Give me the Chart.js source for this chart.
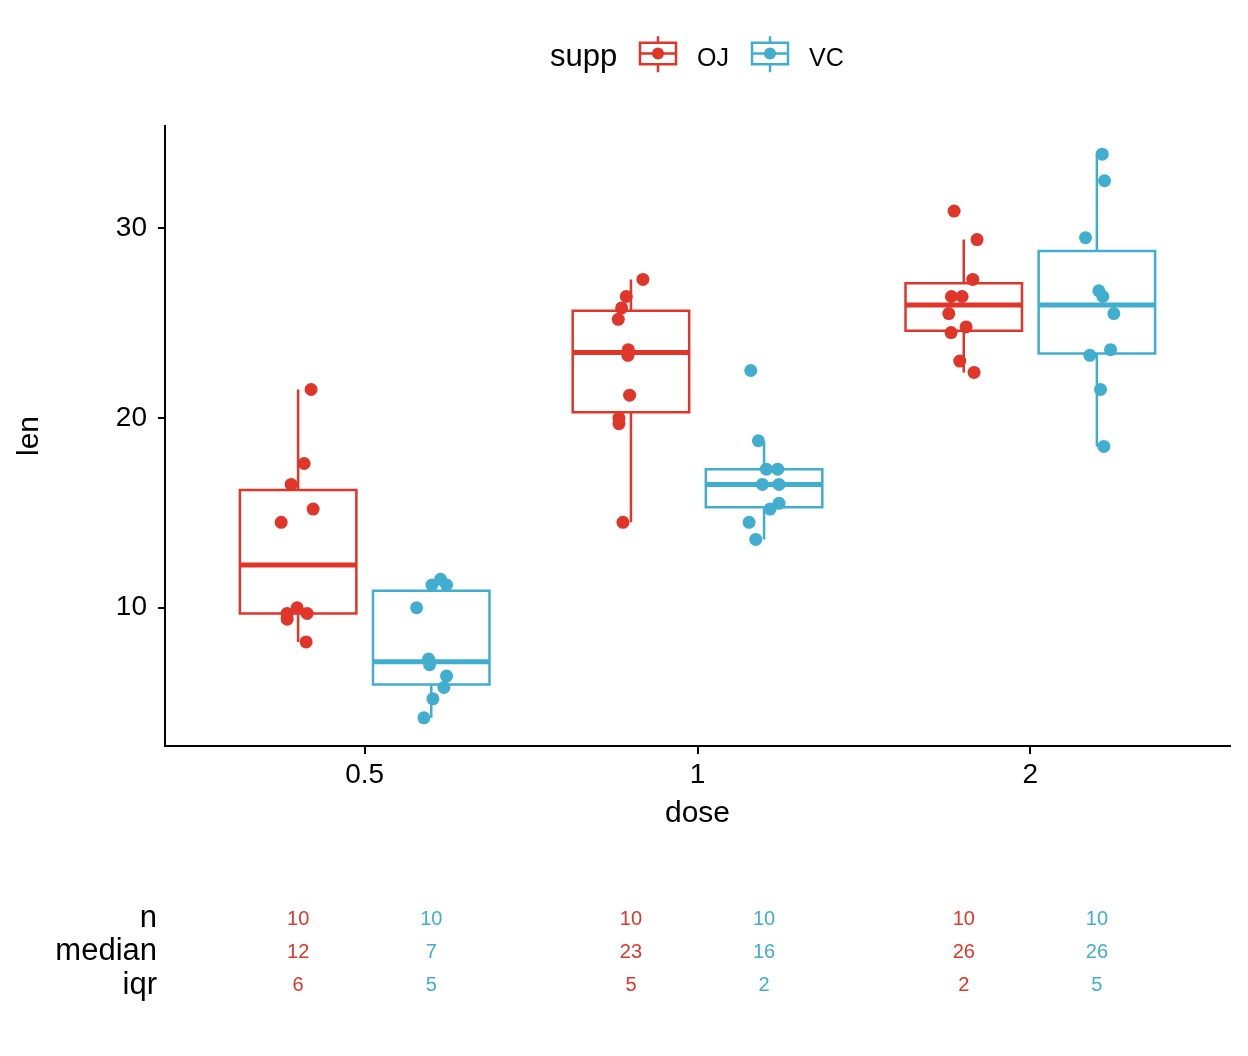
<!DOCTYPE html>
<html>
<head>
<meta charset="utf-8">
<script src="https://cdn.jsdelivr.net/npm/chart.js@4/dist/chart.umd.min.js"></script>
<style>
  html, body { margin: 0; padding: 0; background: #fff; }
  #wrap { width: 1248px; height: 1056px; }
</style>
</head>
<body>
<div id="wrap"><canvas id="chart" width="1248" height="1056"></canvas></div>
<script>
// categories
const doses = ['0.5', '1', '2'];
const doseCenters = [1, 2, 3];
const yTicks = [10, 20, 30];

// len values per dose (0.5, 1, 2)
const ojLen = [
    [15.2, 21.5, 17.6, 9.7, 14.5, 10, 8.2, 9.4, 16.5, 9.7],
    [19.7, 23.3, 23.6, 26.4, 20, 25.2, 25.8, 21.2, 14.5, 27.3],
    [25.5, 26.4, 22.4, 24.5, 24.8, 30.9, 26.4, 27.3, 29.4, 23]
];
const vcLen = [
    [4.2, 11.5, 7.3, 5.8, 6.4, 10, 11.2, 11.2, 5.2, 7],
    [16.5, 16.5, 15.2, 17.3, 22.5, 17.3, 13.6, 14.5, 18.8, 15.5],
    [23.6, 18.5, 33.9, 25.5, 26.4, 32.5, 26.7, 21.5, 23.3, 29.5]
];
// horizontal jitter of each point (in category units)
const ojJitter = [
    [0.045, 0.039, 0.018, -0.033, -0.051, -0.003, 0.024, -0.033, -0.021, 0.027],
    [-0.036, -0.009, -0.008, -0.014, -0.036, -0.038, -0.028, -0.004, -0.024, 0.036],
    [-0.045, -0.037, 0.031, -0.038, 0.007, -0.029, -0.005, 0.027, 0.040, -0.012]
];
const vcJitter = [
    [-0.022, 0.028, -0.008, 0.038, 0.046, -0.044, 0.002, 0.046, 0.005, -0.005],
    [-0.005, 0.045, 0.018, 0.007, -0.040, 0.041, -0.025, -0.045, -0.017, 0.045],
    [0.041, 0.021, 0.016, 0.051, 0.018, 0.023, 0.006, 0.011, -0.021, -0.034]
];

// box stats: lower whisker, q1, median, q3, upper whisker
const ojLow = [8.2, 14.5, 22.4];
const ojQ1 = [9.7, 20.3, 24.6];
const ojMed = [12.25, 23.45, 25.95];
const ojQ3 = [16.2, 25.65, 27.1];
const ojHigh = [21.5, 27.3, 29.4];
const vcLow = [4.2, 13.6, 18.5];
const vcQ1 = [5.95, 15.3, 23.4];
const vcMed = [7.15, 16.5, 25.95];
const vcQ3 = [10.9, 17.3, 28.8];
const vcHigh = [11.5, 18.8, 33.9];

// summary table
const tableRows = ['n', 'median', 'iqr'];
const ojN = [10, 10, 10];
const vcN = [10, 10, 10];
const ojMedianLabel = [12, 23, 26];
const vcMedianLabel = [7, 16, 26];
const ojIqr = [6, 5, 2];
const vcIqr = [5, 2, 5];

const RED = '#E0362A';
const BLUE = '#41AECF';
const FONT = "'Liberation Sans', Arial, Helvetica, sans-serif";
const DODGE = 0.2;
const HALF_BOX = 0.175;

function pointsData(lens, jit, off) {
    const out = [];
    lens.forEach((grp, i) => {
        grp.forEach((v, j) => out.push({ x: doseCenters[i] + off + jit[i][j], y: v }));
    });
    return out;
}

function boxData(q1, q3, off) {
    const out = [];
    doseCenters.forEach((c, i) => {
        const l = c + off - HALF_BOX, r = c + off + HALF_BOX;
        out.push({ x: l, y: q1[i] }, { x: r, y: q1[i] }, { x: r, y: q3[i] },
                 { x: l, y: q3[i] }, { x: l, y: q1[i] }, { x: l, y: null });
    });
    return out;
}

function medianData(med, off) {
    const out = [];
    doseCenters.forEach((c, i) => {
        out.push({ x: c + off - HALF_BOX, y: med[i] }, { x: c + off + HALF_BOX, y: med[i] },
                 { x: c + off + HALF_BOX, y: null });
    });
    return out;
}

function whiskerData(low, q1, q3, high, off) {
    const out = [];
    doseCenters.forEach((c, i) => {
        const x = c + off;
        out.push({ x: x, y: q3[i] }, { x: x, y: high[i] }, { x: x, y: null },
                 { x: x, y: q1[i] }, { x: x, y: low[i] }, { x: x, y: null });
    });
    return out;
}

function lineSet(label, data, color, width, cap) {
    return {
        label: label,
        data: data,
        showLine: true,
        borderColor: color,
        borderWidth: width,
        borderCapStyle: cap,
        borderJoinStyle: 'miter',
        pointRadius: 0,
        fill: false,
        spanGaps: false,
        tension: 0
    };
}

function pointSet(label, data, color) {
    return {
        label: label,
        data: data,
        pointRadius: 6.5,
        pointBackgroundColor: color,
        pointBorderWidth: 0,
        borderColor: color,
        showLine: false
    };
}

// legend + summary table drawn on the canvas
const extras = {
    id: 'extras',
    afterDraw(chart) {
        const ctx = chart.ctx;
        const x = chart.scales.x;
        ctx.save();

        // legend
        ctx.textBaseline = 'alphabetic';
        ctx.textAlign = 'left';
        ctx.fillStyle = '#000';
        ctx.font = '31px ' + FONT;
        ctx.fillText('supp', 550, 66);
        const keys = [[640, RED, 'OJ', 697], [752, BLUE, 'VC', 809]];
        keys.forEach(([kx, col, txt, tx]) => {
            const cy = 53.5, w = 36, h = 21.5;
            ctx.strokeStyle = col;
            ctx.lineWidth = 2.5;
            ctx.lineCap = 'butt';
            ctx.strokeRect(kx, cy - h / 2, w, h);
            ctx.beginPath();
            ctx.moveTo(kx, cy); ctx.lineTo(kx + w, cy);
            ctx.moveTo(kx + w / 2, cy - h / 2); ctx.lineTo(kx + w / 2, cy - h / 2 - 6.5);
            ctx.moveTo(kx + w / 2, cy + h / 2); ctx.lineTo(kx + w / 2, cy + h / 2 + 8);
            ctx.stroke();
            ctx.fillStyle = col;
            ctx.beginPath();
            ctx.arc(kx + w / 2, cy, 6, 0, Math.PI * 2);
            ctx.fill();
            ctx.fillStyle = '#000';
            ctx.font = '25px ' + FONT;
            ctx.fillText(txt, tx, 66);
        });

        // table
        const rowY = [918, 951.5, 985.5];
        ctx.textBaseline = 'middle';
        ctx.textAlign = 'right';
        ctx.fillStyle = '#000';
        ctx.font = '31px ' + FONT;
        tableRows.forEach((r, i) => ctx.fillText(r, 157, rowY[i]));

        ctx.textAlign = 'center';
        ctx.font = '20px ' + FONT;
        const cols = [[ojN, ojMedianLabel, ojIqr, -DODGE, RED], [vcN, vcMedianLabel, vcIqr, DODGE, BLUE]];
        cols.forEach(([n, med, iqr, off, col]) => {
            ctx.fillStyle = col;
            doseCenters.forEach((c, i) => {
                const px = x.getPixelForValue(c + off);
                ctx.fillText(String(n[i]), px, rowY[0] + 1);
                ctx.fillText(String(med[i]), px, rowY[1] + 1);
                ctx.fillText(String(iqr[i]), px, rowY[2]);
            });
        });
        ctx.restore();
    }
};

new Chart(document.getElementById('chart'), {
    type: 'scatter',
    data: {
        datasets: [
            pointSet('OJ', pointsData(ojLen, ojJitter, -DODGE), RED),
            pointSet('VC', pointsData(vcLen, vcJitter, DODGE), BLUE),
            lineSet('OJ median', medianData(ojMed, -DODGE), RED, 5, 'butt'),
            lineSet('VC median', medianData(vcMed, DODGE), BLUE, 5, 'butt'),
            lineSet('OJ box', boxData(ojQ1, ojQ3, -DODGE), RED, 2.5, 'square'),
            lineSet('VC box', boxData(vcQ1, vcQ3, DODGE), BLUE, 2.5, 'square'),
            lineSet('OJ whisker', whiskerData(ojLow, ojQ1, ojQ3, ojHigh, -DODGE), RED, 2.5, 'butt'),
            lineSet('VC whisker', whiskerData(vcLow, vcQ1, vcQ3, vcHigh, DODGE), BLUE, 2.5, 'butt')
        ]
    },
    options: {
        responsive: false,
        animation: false,
        devicePixelRatio: 1,
        layout: { padding: { left: 0, right: 18, top: 126, bottom: 224 } },
        plugins: {
            legend: { display: false },
            tooltip: { enabled: false }
        },
        scales: {
            x: {
                type: 'linear',
                min: 0.4,
                max: 3.6,
                afterBuildTicks: s => { s.ticks = doseCenters.map(v => ({ value: v })); },
                afterFit: s => { s.height = 86; },
                grid: { display: true, drawOnChartArea: false, drawTicks: true, tickLength: 8, color: '#000', lineWidth: 2 },
                border: { display: true, color: '#000', width: 2 },
                ticks: {
                    color: '#000',
                    font: { family: FONT, size: 28 },
                    padding: 4,
                    maxRotation: 0,
                    callback: v => doses[doseCenters.indexOf(v)]
                },
                title: { display: true, text: 'dose', color: '#000', font: { family: FONT, size: 30 }, padding: { top: 0, bottom: 0 } }
            },
            y: {
                min: 2.715,
                max: 35.385,
                afterBuildTicks: s => { s.ticks = yTicks.map(v => ({ value: v })); },
                afterFit: s => { s.width = 165; },
                grid: { display: true, drawOnChartArea: false, drawTicks: true, tickLength: 7, color: '#000', lineWidth: 2 },
                border: { display: true, color: '#000', width: 2 },
                ticks: { color: '#000', font: { family: FONT, size: 28 }, padding: 11 },
                title: { display: true, text: 'len', color: '#000', font: { family: FONT, size: 30 }, padding: { top: 12, bottom: 0 } }
            }
        }
    },
    plugins: [extras]
});
</script>
</body>
</html>
